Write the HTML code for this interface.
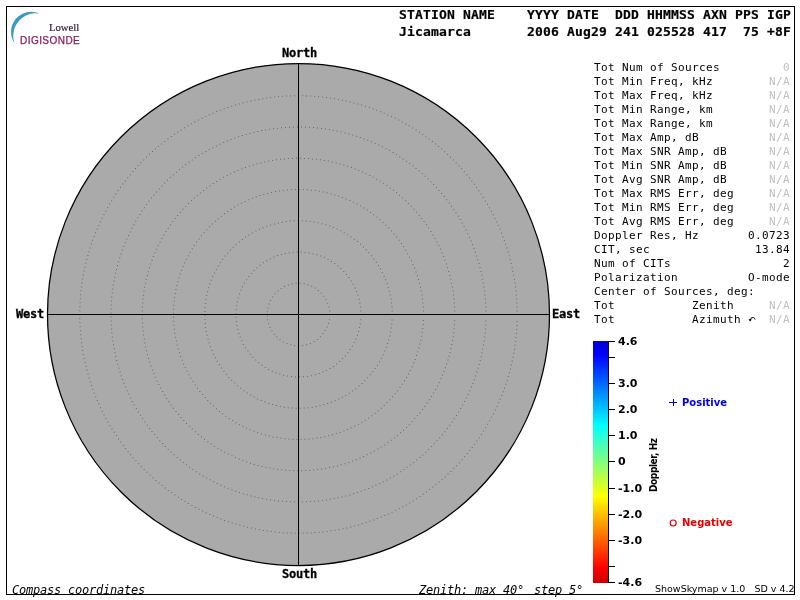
<!DOCTYPE html>
<html><head><meta charset="utf-8">
<style>
html,body{margin:0;padding:0;background:#fff;}
body{width:800px;height:600px;position:relative;overflow:hidden;}
.t{position:absolute;white-space:pre;line-height:1;margin:0;will-change:transform;}
.hd{font-family:"DejaVu Sans Mono",monospace;font-weight:bold;font-size:13px;letter-spacing:0.174px;color:#000;-webkit-text-stroke:0.2px #000;}
.cp{font-family:"DejaVu Sans Mono",monospace;font-weight:bold;font-size:12px;letter-spacing:-0.225px;color:#000;-webkit-text-stroke:0.3px #000;}
.m{font-family:"DejaVu Sans Mono",monospace;font-size:11px;letter-spacing:0.378px;color:#000;}
.mi{font-family:"DejaVu Sans Mono",monospace;font-style:italic;font-size:12px;letter-spacing:-0.225px;color:#000;}
.na{color:#c0c0c0;}
.tk{font-family:"DejaVu Sans",sans-serif;font-weight:bold;font-size:11px;color:#000;}
.lg{font-family:"DejaVu Sans",sans-serif;font-weight:bold;font-size:10px;}
svg{position:absolute;left:0;top:0;}
</style></head><body>
<svg width="800" height="600" viewBox="0 0 800 600">
  <defs>
    <linearGradient id="cb" x1="0" y1="341" x2="0" y2="583" gradientUnits="userSpaceOnUse">
      <stop offset="0" stop-color="#0000cf"/>
      <stop offset="0.056" stop-color="#0000ff"/>
      <stop offset="0.349" stop-color="#00ffff"/>
      <stop offset="0.643" stop-color="#ffff00"/>
      <stop offset="0.936" stop-color="#ff0000"/>
      <stop offset="1" stop-color="#c90000"/>
    </linearGradient>
  </defs>
  <rect x="6.5" y="6.5" width="788" height="588" fill="none" stroke="#000" stroke-width="1"/>
  <circle cx="298.5" cy="314.5" r="251" fill="#aaaaaa" stroke="#000" stroke-width="1.25"/>
  <path fill="#6a6a6a" d="M329.1 310.5h1v1h-1zM328.4 306.6h1v1h-1zM327.2 302.8h1v1h-1zM325.5 299.1h1v1h-1zM323.4 295.7h1v1h-1zM320.8 292.7h1v1h-1zM317.9 289.9h1v1h-1zM314.7 287.6h1v1h-1zM311.2 285.7h1v1h-1zM307.4 284.2h1v1h-1zM303.6 283.2h1v1h-1zM299.6 282.8h1v1h-1zM295.6 282.8h1v1h-1zM291.6 283.4h1v1h-1zM287.8 284.5h1v1h-1zM284.1 286.0h1v1h-1zM280.6 288.0h1v1h-1zM277.5 290.4h1v1h-1zM274.6 293.3h1v1h-1zM272.2 296.4h1v1h-1zM270.1 299.9h1v1h-1zM268.6 303.5h1v1h-1zM267.5 307.4h1v1h-1zM266.9 311.3h1v1h-1zM266.8 315.3h1v1h-1zM267.2 319.3h1v1h-1zM268.1 323.2h1v1h-1zM269.5 326.9h1v1h-1zM271.4 330.5h1v1h-1zM273.7 333.7h1v1h-1zM276.5 336.6h1v1h-1zM279.5 339.2h1v1h-1zM282.9 341.4h1v1h-1zM286.5 343.1h1v1h-1zM290.3 344.3h1v1h-1zM294.2 345.0h1v1h-1zM298.2 345.2h1v1h-1zM302.2 345.0h1v1h-1zM306.1 344.2h1v1h-1zM309.9 342.9h1v1h-1zM313.5 341.1h1v1h-1zM316.9 338.9h1v1h-1zM319.9 336.3h1v1h-1zM322.5 333.3h1v1h-1zM324.8 330.0h1v1h-1zM326.6 326.5h1v1h-1zM328.0 322.7h1v1h-1zM328.9 318.8h1v1h-1zM360.4 310.5h1v1h-1zM360.1 306.5h1v1h-1zM359.4 302.6h1v1h-1zM358.6 298.7h1v1h-1zM357.5 294.8h1v1h-1zM356.1 291.0h1v1h-1zM354.5 287.4h1v1h-1zM352.7 283.8h1v1h-1zM350.7 280.4h1v1h-1zM348.4 277.1h1v1h-1zM346.0 273.9h1v1h-1zM343.3 270.9h1v1h-1zM340.5 268.1h1v1h-1zM337.4 265.5h1v1h-1zM334.3 263.1h1v1h-1zM330.9 260.9h1v1h-1zM327.5 258.9h1v1h-1zM323.9 257.1h1v1h-1zM320.2 255.6h1v1h-1zM316.4 254.3h1v1h-1zM312.5 253.2h1v1h-1zM308.6 252.4h1v1h-1zM304.7 251.9h1v1h-1zM300.7 251.6h1v1h-1zM296.7 251.5h1v1h-1zM292.7 251.7h1v1h-1zM288.7 252.2h1v1h-1zM284.8 252.9h1v1h-1zM280.9 253.9h1v1h-1zM277.1 255.1h1v1h-1zM273.4 256.6h1v1h-1zM269.7 258.3h1v1h-1zM266.2 260.2h1v1h-1zM262.9 262.3h1v1h-1zM259.6 264.7h1v1h-1zM256.5 267.2h1v1h-1zM253.6 270.0h1v1h-1zM250.9 272.9h1v1h-1zM248.4 276.0h1v1h-1zM246.1 279.2h1v1h-1zM243.9 282.6h1v1h-1zM242.0 286.2h1v1h-1zM240.4 289.8h1v1h-1zM238.9 293.5h1v1h-1zM237.8 297.4h1v1h-1zM236.8 301.2h1v1h-1zM236.1 305.2h1v1h-1zM235.7 309.2h1v1h-1zM235.5 313.2h1v1h-1zM235.6 317.1h1v1h-1zM235.9 321.1h1v1h-1zM236.5 325.1h1v1h-1zM237.3 329.0h1v1h-1zM238.4 332.9h1v1h-1zM239.7 336.6h1v1h-1zM241.3 340.3h1v1h-1zM243.1 343.9h1v1h-1zM245.1 347.3h1v1h-1zM247.4 350.6h1v1h-1zM249.8 353.8h1v1h-1zM252.5 356.8h1v1h-1zM255.3 359.6h1v1h-1zM258.3 362.3h1v1h-1zM261.5 364.7h1v1h-1zM264.8 366.9h1v1h-1zM268.2 369.0h1v1h-1zM271.8 370.7h1v1h-1zM275.5 372.3h1v1h-1zM279.3 373.6h1v1h-1zM283.1 374.7h1v1h-1zM287.0 375.5h1v1h-1zM291.0 376.1h1v1h-1zM295.0 376.4h1v1h-1zM299.0 376.5h1v1h-1zM303.0 376.3h1v1h-1zM306.9 375.9h1v1h-1zM310.9 375.2h1v1h-1zM314.8 374.2h1v1h-1zM318.6 373.0h1v1h-1zM322.3 371.6h1v1h-1zM325.9 369.9h1v1h-1zM329.5 368.0h1v1h-1zM332.9 365.9h1v1h-1zM336.1 363.5h1v1h-1zM339.2 361.0h1v1h-1zM342.1 358.3h1v1h-1zM344.9 355.4h1v1h-1zM347.4 352.3h1v1h-1zM349.8 349.0h1v1h-1zM351.9 345.7h1v1h-1zM353.8 342.1h1v1h-1zM355.5 338.5h1v1h-1zM356.9 334.8h1v1h-1zM358.1 331.0h1v1h-1zM359.1 327.1h1v1h-1zM359.8 323.2h1v1h-1zM360.3 319.2h1v1h-1zM391.7 310.5h1v1h-1zM391.5 306.5h1v1h-1zM391.0 302.5h1v1h-1zM390.5 298.6h1v1h-1zM389.7 294.6h1v1h-1zM388.8 290.7h1v1h-1zM387.7 286.9h1v1h-1zM386.5 283.1h1v1h-1zM385.1 279.3h1v1h-1zM383.6 275.7h1v1h-1zM381.8 272.0h1v1h-1zM380.0 268.5h1v1h-1zM378.0 265.1h1v1h-1zM375.8 261.7h1v1h-1zM373.5 258.4h1v1h-1zM371.1 255.2h1v1h-1zM368.5 252.2h1v1h-1zM365.8 249.2h1v1h-1zM363.0 246.4h1v1h-1zM360.0 243.7h1v1h-1zM357.0 241.1h1v1h-1zM353.8 238.7h1v1h-1zM350.5 236.4h1v1h-1zM347.2 234.2h1v1h-1zM343.7 232.2h1v1h-1zM340.2 230.3h1v1h-1zM336.6 228.6h1v1h-1zM332.9 227.0h1v1h-1zM329.2 225.6h1v1h-1zM325.4 224.3h1v1h-1zM321.5 223.2h1v1h-1zM317.6 222.3h1v1h-1zM313.7 221.6h1v1h-1zM309.7 221.0h1v1h-1zM305.8 220.6h1v1h-1zM301.8 220.3h1v1h-1zM297.8 220.3h1v1h-1zM293.8 220.3h1v1h-1zM289.8 220.6h1v1h-1zM285.8 221.0h1v1h-1zM281.8 221.7h1v1h-1zM277.9 222.4h1v1h-1zM274.0 223.4h1v1h-1zM270.2 224.5h1v1h-1zM266.4 225.7h1v1h-1zM262.7 227.2h1v1h-1zM259.0 228.8h1v1h-1zM255.4 230.5h1v1h-1zM251.9 232.4h1v1h-1zM248.4 234.4h1v1h-1zM245.1 236.6h1v1h-1zM241.8 238.9h1v1h-1zM238.7 241.4h1v1h-1zM235.6 244.0h1v1h-1zM232.7 246.7h1v1h-1zM229.9 249.6h1v1h-1zM227.2 252.5h1v1h-1zM224.6 255.6h1v1h-1zM222.2 258.8h1v1h-1zM219.9 262.1h1v1h-1zM217.8 265.5h1v1h-1zM215.8 268.9h1v1h-1zM214.0 272.5h1v1h-1zM212.3 276.1h1v1h-1zM210.7 279.8h1v1h-1zM209.3 283.5h1v1h-1zM208.1 287.3h1v1h-1zM207.1 291.2h1v1h-1zM206.2 295.1h1v1h-1zM205.5 299.0h1v1h-1zM204.9 303.0h1v1h-1zM204.5 307.0h1v1h-1zM204.3 311.0h1v1h-1zM204.3 315.0h1v1h-1zM204.4 319.0h1v1h-1zM204.7 323.0h1v1h-1zM205.1 326.9h1v1h-1zM205.8 330.9h1v1h-1zM206.6 334.8h1v1h-1zM207.6 338.7h1v1h-1zM208.7 342.5h1v1h-1zM210.0 346.3h1v1h-1zM211.4 350.0h1v1h-1zM213.1 353.7h1v1h-1zM214.8 357.3h1v1h-1zM216.8 360.8h1v1h-1zM218.8 364.2h1v1h-1zM221.0 367.5h1v1h-1zM223.4 370.8h1v1h-1zM225.9 373.9h1v1h-1zM228.5 376.9h1v1h-1zM231.2 379.8h1v1h-1zM234.1 382.6h1v1h-1zM237.1 385.3h1v1h-1zM240.2 387.8h1v1h-1zM243.4 390.2h1v1h-1zM246.7 392.5h1v1h-1zM250.1 394.6h1v1h-1zM253.6 396.6h1v1h-1zM257.1 398.4h1v1h-1zM260.8 400.0h1v1h-1zM264.5 401.5h1v1h-1zM268.2 402.9h1v1h-1zM272.1 404.1h1v1h-1zM275.9 405.1h1v1h-1zM279.8 406.0h1v1h-1zM283.8 406.7h1v1h-1zM287.7 407.2h1v1h-1zM291.7 407.5h1v1h-1zM295.7 407.7h1v1h-1zM299.7 407.7h1v1h-1zM303.7 407.6h1v1h-1zM307.7 407.2h1v1h-1zM311.7 406.7h1v1h-1zM315.6 406.1h1v1h-1zM319.5 405.2h1v1h-1zM323.4 404.2h1v1h-1zM327.2 403.1h1v1h-1zM331.0 401.8h1v1h-1zM334.7 400.3h1v1h-1zM338.4 398.6h1v1h-1zM341.9 396.8h1v1h-1zM345.4 394.9h1v1h-1zM348.8 392.8h1v1h-1zM352.1 390.5h1v1h-1zM355.4 388.2h1v1h-1zM358.5 385.6h1v1h-1zM361.5 383.0h1v1h-1zM364.3 380.2h1v1h-1zM367.1 377.3h1v1h-1zM369.8 374.3h1v1h-1zM372.3 371.2h1v1h-1zM374.6 368.0h1v1h-1zM376.9 364.7h1v1h-1zM379.0 361.3h1v1h-1zM380.9 357.8h1v1h-1zM382.7 354.2h1v1h-1zM384.3 350.6h1v1h-1zM385.8 346.8h1v1h-1zM387.1 343.1h1v1h-1zM388.3 339.2h1v1h-1zM389.3 335.4h1v1h-1zM390.1 331.4h1v1h-1zM390.8 327.5h1v1h-1zM391.3 323.5h1v1h-1zM391.6 319.5h1v1h-1zM423.0 310.5h1v1h-1zM422.8 306.5h1v1h-1zM422.5 302.5h1v1h-1zM422.0 298.5h1v1h-1zM421.5 294.6h1v1h-1zM420.8 290.6h1v1h-1zM420.0 286.7h1v1h-1zM419.1 282.8h1v1h-1zM418.0 279.0h1v1h-1zM416.8 275.2h1v1h-1zM415.5 271.4h1v1h-1zM414.1 267.6h1v1h-1zM412.5 263.9h1v1h-1zM410.9 260.3h1v1h-1zM409.1 256.7h1v1h-1zM407.2 253.2h1v1h-1zM405.2 249.7h1v1h-1zM403.1 246.3h1v1h-1zM400.9 243.0h1v1h-1zM398.6 239.8h1v1h-1zM396.1 236.6h1v1h-1zM393.6 233.5h1v1h-1zM391.0 230.5h1v1h-1zM388.3 227.5h1v1h-1zM385.4 224.7h1v1h-1zM382.5 221.9h1v1h-1zM379.6 219.3h1v1h-1zM376.5 216.7h1v1h-1zM373.3 214.2h1v1h-1zM370.1 211.9h1v1h-1zM366.8 209.6h1v1h-1zM363.4 207.5h1v1h-1zM360.0 205.4h1v1h-1zM356.5 203.5h1v1h-1zM352.9 201.7h1v1h-1zM349.3 200.0h1v1h-1zM345.6 198.4h1v1h-1zM341.9 197.0h1v1h-1zM338.1 195.6h1v1h-1zM334.3 194.4h1v1h-1zM330.5 193.3h1v1h-1zM326.6 192.3h1v1h-1zM322.7 191.5h1v1h-1zM318.8 190.7h1v1h-1zM314.8 190.1h1v1h-1zM310.8 189.7h1v1h-1zM306.8 189.3h1v1h-1zM302.8 189.1h1v1h-1zM298.8 189.0h1v1h-1zM294.8 189.0h1v1h-1zM290.9 189.2h1v1h-1zM286.9 189.5h1v1h-1zM282.9 189.9h1v1h-1zM278.9 190.5h1v1h-1zM275.0 191.1h1v1h-1zM271.1 191.9h1v1h-1zM267.2 192.9h1v1h-1zM263.3 193.9h1v1h-1zM259.5 195.1h1v1h-1zM255.7 196.4h1v1h-1zM252.0 197.8h1v1h-1zM248.3 199.3h1v1h-1zM244.6 201.0h1v1h-1zM241.0 202.7h1v1h-1zM237.5 204.6h1v1h-1zM234.0 206.6h1v1h-1zM230.6 208.7h1v1h-1zM227.3 210.9h1v1h-1zM224.0 213.2h1v1h-1zM220.8 215.7h1v1h-1zM217.7 218.2h1v1h-1zM214.7 220.8h1v1h-1zM211.8 223.5h1v1h-1zM208.9 226.3h1v1h-1zM206.2 229.2h1v1h-1zM203.5 232.2h1v1h-1zM200.9 235.2h1v1h-1zM198.5 238.4h1v1h-1zM196.1 241.6h1v1h-1zM193.8 244.9h1v1h-1zM191.7 248.3h1v1h-1zM189.6 251.7h1v1h-1zM187.7 255.2h1v1h-1zM185.9 258.8h1v1h-1zM184.2 262.4h1v1h-1zM182.6 266.1h1v1h-1zM181.1 269.8h1v1h-1zM179.7 273.5h1v1h-1zM178.5 277.3h1v1h-1zM177.4 281.2h1v1h-1zM176.4 285.1h1v1h-1zM175.5 289.0h1v1h-1zM174.8 292.9h1v1h-1zM174.2 296.9h1v1h-1zM173.7 300.8h1v1h-1zM173.3 304.8h1v1h-1zM173.1 308.8h1v1h-1zM173.0 312.8h1v1h-1zM173.0 316.8h1v1h-1zM173.2 320.8h1v1h-1zM173.5 324.8h1v1h-1zM173.9 328.8h1v1h-1zM174.4 332.7h1v1h-1zM175.1 336.7h1v1h-1zM175.9 340.6h1v1h-1zM176.8 344.5h1v1h-1zM177.8 348.4h1v1h-1zM179.0 352.2h1v1h-1zM180.3 356.0h1v1h-1zM181.7 359.7h1v1h-1zM183.2 363.4h1v1h-1zM184.8 367.1h1v1h-1zM186.6 370.7h1v1h-1zM188.4 374.2h1v1h-1zM190.4 377.7h1v1h-1zM192.5 381.1h1v1h-1zM194.7 384.4h1v1h-1zM197.0 387.7h1v1h-1zM199.4 390.9h1v1h-1zM201.9 394.0h1v1h-1zM204.6 397.0h1v1h-1zM207.3 400.0h1v1h-1zM210.1 402.8h1v1h-1zM212.9 405.6h1v1h-1zM215.9 408.3h1v1h-1zM219.0 410.9h1v1h-1zM222.1 413.3h1v1h-1zM225.3 415.7h1v1h-1zM228.6 418.0h1v1h-1zM232.0 420.1h1v1h-1zM235.4 422.2h1v1h-1zM238.9 424.2h1v1h-1zM242.5 426.0h1v1h-1zM246.1 427.7h1v1h-1zM249.7 429.3h1v1h-1zM253.5 430.8h1v1h-1zM257.2 432.2h1v1h-1zM261.0 433.4h1v1h-1zM264.9 434.5h1v1h-1zM268.7 435.5h1v1h-1zM272.6 436.4h1v1h-1zM276.6 437.1h1v1h-1zM280.5 437.8h1v1h-1zM284.5 438.3h1v1h-1zM288.5 438.6h1v1h-1zM292.5 438.9h1v1h-1zM296.5 439.0h1v1h-1zM300.5 439.0h1v1h-1zM304.4 438.8h1v1h-1zM308.4 438.6h1v1h-1zM312.4 438.2h1v1h-1zM316.4 437.6h1v1h-1zM320.3 437.0h1v1h-1zM324.3 436.2h1v1h-1zM328.2 435.3h1v1h-1zM332.0 434.3h1v1h-1zM335.8 433.1h1v1h-1zM339.6 431.9h1v1h-1zM343.4 430.5h1v1h-1zM347.1 429.0h1v1h-1zM350.7 427.3h1v1h-1zM354.3 425.6h1v1h-1zM357.9 423.7h1v1h-1zM361.4 421.7h1v1h-1zM364.8 419.7h1v1h-1zM368.1 417.5h1v1h-1zM371.4 415.2h1v1h-1zM374.6 412.8h1v1h-1zM377.7 410.3h1v1h-1zM380.8 407.7h1v1h-1zM383.7 405.0h1v1h-1zM386.6 402.2h1v1h-1zM389.4 399.3h1v1h-1zM392.0 396.3h1v1h-1zM394.6 393.3h1v1h-1zM397.1 390.2h1v1h-1zM399.5 387.0h1v1h-1zM401.8 383.7h1v1h-1zM404.0 380.3h1v1h-1zM406.0 376.9h1v1h-1zM408.0 373.4h1v1h-1zM409.8 369.9h1v1h-1zM411.6 366.2h1v1h-1zM413.2 362.6h1v1h-1zM414.7 358.9h1v1h-1zM416.0 355.1h1v1h-1zM417.3 351.3h1v1h-1zM418.4 347.5h1v1h-1zM419.4 343.6h1v1h-1zM420.3 339.7h1v1h-1zM421.1 335.8h1v1h-1zM421.7 331.8h1v1h-1zM422.2 327.9h1v1h-1zM422.6 323.9h1v1h-1zM422.9 319.9h1v1h-1zM454.2 310.5h1v1h-1zM454.1 306.5h1v1h-1zM453.8 302.5h1v1h-1zM453.5 298.5h1v1h-1zM453.0 294.6h1v1h-1zM452.5 290.6h1v1h-1zM451.8 286.6h1v1h-1zM451.1 282.7h1v1h-1zM450.2 278.8h1v1h-1zM449.3 274.9h1v1h-1zM448.2 271.1h1v1h-1zM447.1 267.2h1v1h-1zM445.8 263.4h1v1h-1zM444.5 259.7h1v1h-1zM443.1 255.9h1v1h-1zM441.5 252.2h1v1h-1zM439.9 248.6h1v1h-1zM438.2 245.0h1v1h-1zM436.4 241.4h1v1h-1zM434.5 237.9h1v1h-1zM432.5 234.4h1v1h-1zM430.4 231.0h1v1h-1zM428.2 227.6h1v1h-1zM426.0 224.3h1v1h-1zM423.6 221.1h1v1h-1zM421.2 217.9h1v1h-1zM418.7 214.8h1v1h-1zM416.1 211.7h1v1h-1zM413.5 208.7h1v1h-1zM410.7 205.8h1v1h-1zM407.9 203.0h1v1h-1zM405.1 200.2h1v1h-1zM402.1 197.5h1v1h-1zM399.1 194.9h1v1h-1zM396.0 192.3h1v1h-1zM392.9 189.8h1v1h-1zM389.6 187.5h1v1h-1zM386.4 185.1h1v1h-1zM383.1 182.9h1v1h-1zM379.7 180.8h1v1h-1zM376.2 178.7h1v1h-1zM372.7 176.8h1v1h-1zM369.2 174.9h1v1h-1zM365.6 173.1h1v1h-1zM362.0 171.5h1v1h-1zM358.3 169.9h1v1h-1zM354.6 168.4h1v1h-1zM350.9 167.0h1v1h-1zM347.1 165.7h1v1h-1zM343.3 164.5h1v1h-1zM339.4 163.3h1v1h-1zM335.6 162.3h1v1h-1zM331.7 161.4h1v1h-1zM327.8 160.6h1v1h-1zM323.8 159.9h1v1h-1zM319.9 159.3h1v1h-1zM315.9 158.8h1v1h-1zM311.9 158.4h1v1h-1zM307.9 158.1h1v1h-1zM303.9 157.9h1v1h-1zM299.9 157.8h1v1h-1zM295.9 157.8h1v1h-1zM291.9 157.9h1v1h-1zM287.9 158.1h1v1h-1zM284.0 158.4h1v1h-1zM280.0 158.8h1v1h-1zM276.0 159.3h1v1h-1zM272.1 159.9h1v1h-1zM268.1 160.6h1v1h-1zM264.2 161.4h1v1h-1zM260.3 162.4h1v1h-1zM256.4 163.4h1v1h-1zM252.6 164.5h1v1h-1zM248.8 165.7h1v1h-1zM245.0 167.0h1v1h-1zM241.3 168.4h1v1h-1zM237.6 169.9h1v1h-1zM233.9 171.5h1v1h-1zM230.3 173.2h1v1h-1zM226.7 175.0h1v1h-1zM223.1 176.8h1v1h-1zM219.7 178.8h1v1h-1zM216.2 180.9h1v1h-1zM212.8 183.0h1v1h-1zM209.5 185.2h1v1h-1zM206.2 187.5h1v1h-1zM203.0 189.9h1v1h-1zM199.9 192.4h1v1h-1zM196.8 194.9h1v1h-1zM193.8 197.6h1v1h-1zM190.9 200.3h1v1h-1zM188.0 203.1h1v1h-1zM185.2 205.9h1v1h-1zM182.4 208.8h1v1h-1zM179.8 211.8h1v1h-1zM177.2 214.9h1v1h-1zM174.7 218.0h1v1h-1zM172.3 221.2h1v1h-1zM170.0 224.4h1v1h-1zM167.7 227.7h1v1h-1zM165.5 231.1h1v1h-1zM163.5 234.5h1v1h-1zM161.5 238.0h1v1h-1zM159.6 241.5h1v1h-1zM157.8 245.1h1v1h-1zM156.1 248.7h1v1h-1zM154.4 252.3h1v1h-1zM152.9 256.0h1v1h-1zM151.5 259.8h1v1h-1zM150.1 263.5h1v1h-1zM148.9 267.3h1v1h-1zM147.7 271.2h1v1h-1zM146.7 275.0h1v1h-1zM145.7 278.9h1v1h-1zM144.9 282.8h1v1h-1zM144.1 286.8h1v1h-1zM143.5 290.7h1v1h-1zM142.9 294.7h1v1h-1zM142.5 298.7h1v1h-1zM142.2 302.6h1v1h-1zM141.9 306.6h1v1h-1zM141.8 310.6h1v1h-1zM141.8 314.6h1v1h-1zM141.8 318.6h1v1h-1zM142.0 322.6h1v1h-1zM142.3 326.6h1v1h-1zM142.6 330.6h1v1h-1zM143.1 334.6h1v1h-1zM143.7 338.5h1v1h-1zM144.4 342.5h1v1h-1zM145.1 346.4h1v1h-1zM146.0 350.3h1v1h-1zM147.0 354.2h1v1h-1zM148.1 358.0h1v1h-1zM149.3 361.8h1v1h-1zM150.5 365.6h1v1h-1zM151.9 369.4h1v1h-1zM153.4 373.1h1v1h-1zM154.9 376.8h1v1h-1zM156.6 380.4h1v1h-1zM158.3 384.0h1v1h-1zM160.2 387.6h1v1h-1zM162.1 391.1h1v1h-1zM164.1 394.5h1v1h-1zM166.2 397.9h1v1h-1zM168.4 401.3h1v1h-1zM170.7 404.6h1v1h-1zM173.0 407.8h1v1h-1zM175.5 411.0h1v1h-1zM178.0 414.1h1v1h-1zM180.6 417.1h1v1h-1zM183.3 420.1h1v1h-1zM186.0 423.0h1v1h-1zM188.9 425.8h1v1h-1zM191.8 428.6h1v1h-1zM194.7 431.3h1v1h-1zM197.8 433.9h1v1h-1zM200.9 436.4h1v1h-1zM204.0 438.8h1v1h-1zM207.3 441.2h1v1h-1zM210.6 443.5h1v1h-1zM213.9 445.7h1v1h-1zM217.3 447.8h1v1h-1zM220.7 449.8h1v1h-1zM224.2 451.7h1v1h-1zM227.8 453.6h1v1h-1zM231.4 455.3h1v1h-1zM235.0 457.0h1v1h-1zM238.7 458.6h1v1h-1zM242.4 460.0h1v1h-1zM246.2 461.4h1v1h-1zM250.0 462.7h1v1h-1zM253.8 463.9h1v1h-1zM257.7 465.0h1v1h-1zM261.5 465.9h1v1h-1zM265.4 466.8h1v1h-1zM269.4 467.6h1v1h-1zM273.3 468.3h1v1h-1zM277.3 468.9h1v1h-1zM281.2 469.3h1v1h-1zM285.2 469.7h1v1h-1zM289.2 470.0h1v1h-1zM293.2 470.2h1v1h-1zM297.2 470.2h1v1h-1zM301.2 470.2h1v1h-1zM305.2 470.1h1v1h-1zM309.2 469.8h1v1h-1zM313.2 469.5h1v1h-1zM317.1 469.1h1v1h-1zM321.1 468.5h1v1h-1zM325.1 467.9h1v1h-1zM329.0 467.1h1v1h-1zM332.9 466.3h1v1h-1zM336.8 465.4h1v1h-1zM340.6 464.3h1v1h-1zM344.5 463.2h1v1h-1zM348.3 461.9h1v1h-1zM352.0 460.6h1v1h-1zM355.8 459.2h1v1h-1zM359.5 457.6h1v1h-1zM363.1 456.0h1v1h-1zM366.8 454.3h1v1h-1zM370.3 452.5h1v1h-1zM373.8 450.6h1v1h-1zM377.3 448.6h1v1h-1zM380.7 446.5h1v1h-1zM384.1 444.4h1v1h-1zM387.4 442.1h1v1h-1zM390.7 439.8h1v1h-1zM393.9 437.4h1v1h-1zM397.0 434.9h1v1h-1zM400.0 432.3h1v1h-1zM403.0 429.7h1v1h-1zM406.0 427.0h1v1h-1zM408.8 424.2h1v1h-1zM411.6 421.3h1v1h-1zM414.3 418.3h1v1h-1zM416.9 415.3h1v1h-1zM419.5 412.2h1v1h-1zM422.0 409.1h1v1h-1zM424.4 405.9h1v1h-1zM426.7 402.6h1v1h-1zM428.9 399.3h1v1h-1zM431.0 395.9h1v1h-1zM433.1 392.5h1v1h-1zM435.1 389.0h1v1h-1zM436.9 385.5h1v1h-1zM438.7 381.9h1v1h-1zM440.4 378.3h1v1h-1zM442.0 374.6h1v1h-1zM443.5 370.9h1v1h-1zM444.9 367.2h1v1h-1zM446.2 363.4h1v1h-1zM447.5 359.6h1v1h-1zM448.6 355.7h1v1h-1zM449.6 351.9h1v1h-1zM450.5 348.0h1v1h-1zM451.3 344.1h1v1h-1zM452.1 340.1h1v1h-1zM452.7 336.2h1v1h-1zM453.2 332.2h1v1h-1zM453.6 328.2h1v1h-1zM453.9 324.2h1v1h-1zM454.1 320.2h1v1h-1zM485.5 310.5h1v1h-1zM485.4 306.5h1v1h-1zM485.1 302.5h1v1h-1zM484.9 298.5h1v1h-1zM484.5 294.5h1v1h-1zM484.0 290.6h1v1h-1zM483.5 286.6h1v1h-1zM482.9 282.6h1v1h-1zM482.1 278.7h1v1h-1zM481.4 274.8h1v1h-1zM480.5 270.9h1v1h-1zM479.5 267.0h1v1h-1zM478.5 263.1h1v1h-1zM477.3 259.3h1v1h-1zM476.1 255.5h1v1h-1zM474.8 251.7h1v1h-1zM473.5 247.9h1v1h-1zM472.0 244.2h1v1h-1zM470.5 240.5h1v1h-1zM468.9 236.9h1v1h-1zM467.2 233.2h1v1h-1zM465.5 229.6h1v1h-1zM463.6 226.1h1v1h-1zM461.7 222.6h1v1h-1zM459.7 219.1h1v1h-1zM457.7 215.7h1v1h-1zM455.5 212.3h1v1h-1zM453.3 209.0h1v1h-1zM451.0 205.7h1v1h-1zM448.7 202.4h1v1h-1zM446.3 199.2h1v1h-1zM443.8 196.1h1v1h-1zM441.2 193.0h1v1h-1zM438.6 190.0h1v1h-1zM436.0 187.0h1v1h-1zM433.2 184.1h1v1h-1zM430.4 181.2h1v1h-1zM427.6 178.5h1v1h-1zM424.6 175.7h1v1h-1zM421.7 173.1h1v1h-1zM418.6 170.4h1v1h-1zM415.5 167.9h1v1h-1zM412.4 165.4h1v1h-1zM409.2 163.0h1v1h-1zM405.9 160.7h1v1h-1zM402.6 158.4h1v1h-1zM399.3 156.2h1v1h-1zM395.9 154.1h1v1h-1zM392.5 152.0h1v1h-1zM389.0 150.1h1v1h-1zM385.5 148.2h1v1h-1zM381.9 146.3h1v1h-1zM378.3 144.6h1v1h-1zM374.7 142.9h1v1h-1zM371.0 141.3h1v1h-1zM367.3 139.8h1v1h-1zM363.6 138.4h1v1h-1zM359.8 137.0h1v1h-1zM356.1 135.7h1v1h-1zM352.2 134.5h1v1h-1zM348.4 133.4h1v1h-1zM344.5 132.4h1v1h-1zM340.6 131.4h1v1h-1zM336.7 130.5h1v1h-1zM332.8 129.8h1v1h-1zM328.9 129.1h1v1h-1zM324.9 128.4h1v1h-1zM321.0 127.9h1v1h-1zM317.0 127.5h1v1h-1zM313.0 127.1h1v1h-1zM309.0 126.8h1v1h-1zM305.0 126.6h1v1h-1zM301.0 126.5h1v1h-1zM297.0 126.5h1v1h-1zM293.0 126.6h1v1h-1zM289.0 126.7h1v1h-1zM285.0 126.9h1v1h-1zM281.0 127.3h1v1h-1zM277.1 127.7h1v1h-1zM273.1 128.2h1v1h-1zM269.1 128.7h1v1h-1zM265.2 129.4h1v1h-1zM261.3 130.1h1v1h-1zM257.3 131.0h1v1h-1zM253.5 131.9h1v1h-1zM249.6 132.9h1v1h-1zM245.7 133.9h1v1h-1zM241.9 135.1h1v1h-1zM238.1 136.3h1v1h-1zM234.3 137.6h1v1h-1zM230.6 139.0h1v1h-1zM226.9 140.5h1v1h-1zM223.2 142.1h1v1h-1zM219.5 143.7h1v1h-1zM215.9 145.4h1v1h-1zM212.3 147.2h1v1h-1zM208.8 149.1h1v1h-1zM205.3 151.0h1v1h-1zM201.8 153.0h1v1h-1zM198.4 155.1h1v1h-1zM195.1 157.3h1v1h-1zM191.7 159.5h1v1h-1zM188.5 161.8h1v1h-1zM185.2 164.2h1v1h-1zM182.1 166.6h1v1h-1zM179.0 169.1h1v1h-1zM175.9 171.7h1v1h-1zM172.9 174.3h1v1h-1zM169.9 177.0h1v1h-1zM167.0 179.8h1v1h-1zM164.2 182.6h1v1h-1zM161.4 185.5h1v1h-1zM158.7 188.5h1v1h-1zM156.1 191.5h1v1h-1zM153.5 194.5h1v1h-1zM151.0 197.6h1v1h-1zM148.5 200.8h1v1h-1zM146.2 204.0h1v1h-1zM143.8 207.3h1v1h-1zM141.6 210.6h1v1h-1zM139.4 213.9h1v1h-1zM137.3 217.3h1v1h-1zM135.3 220.8h1v1h-1zM133.4 224.3h1v1h-1zM131.5 227.8h1v1h-1zM129.7 231.4h1v1h-1zM128.0 235.0h1v1h-1zM126.3 238.6h1v1h-1zM124.7 242.3h1v1h-1zM123.3 246.0h1v1h-1zM121.8 249.8h1v1h-1zM120.5 253.6h1v1h-1zM119.3 257.4h1v1h-1zM118.1 261.2h1v1h-1zM117.0 265.0h1v1h-1zM116.0 268.9h1v1h-1zM115.1 272.8h1v1h-1zM114.2 276.7h1v1h-1zM113.5 280.6h1v1h-1zM112.8 284.6h1v1h-1zM112.2 288.5h1v1h-1zM111.7 292.5h1v1h-1zM111.3 296.5h1v1h-1zM111.0 300.5h1v1h-1zM110.7 304.5h1v1h-1zM110.6 308.5h1v1h-1zM110.5 312.5h1v1h-1zM110.5 316.5h1v1h-1zM110.6 320.5h1v1h-1zM110.8 324.4h1v1h-1zM111.1 328.4h1v1h-1zM111.4 332.4h1v1h-1zM111.8 336.4h1v1h-1zM112.4 340.4h1v1h-1zM113.0 344.3h1v1h-1zM113.7 348.3h1v1h-1zM114.4 352.2h1v1h-1zM115.3 356.1h1v1h-1zM116.2 360.0h1v1h-1zM117.2 363.8h1v1h-1zM118.4 367.7h1v1h-1zM119.5 371.5h1v1h-1zM120.8 375.3h1v1h-1zM122.2 379.1h1v1h-1zM123.6 382.8h1v1h-1zM125.1 386.5h1v1h-1zM126.7 390.2h1v1h-1zM128.3 393.8h1v1h-1zM130.1 397.4h1v1h-1zM131.9 401.0h1v1h-1zM133.8 404.5h1v1h-1zM135.8 408.0h1v1h-1zM137.8 411.4h1v1h-1zM139.9 414.8h1v1h-1zM142.1 418.2h1v1h-1zM144.4 421.5h1v1h-1zM146.7 424.7h1v1h-1zM149.1 427.9h1v1h-1zM151.5 431.1h1v1h-1zM154.1 434.2h1v1h-1zM156.7 437.2h1v1h-1zM159.3 440.2h1v1h-1zM162.1 443.1h1v1h-1zM164.8 446.0h1v1h-1zM167.7 448.8h1v1h-1zM170.6 451.6h1v1h-1zM173.6 454.3h1v1h-1zM176.6 456.9h1v1h-1zM179.7 459.4h1v1h-1zM182.8 461.9h1v1h-1zM186.0 464.3h1v1h-1zM189.2 466.7h1v1h-1zM192.5 469.0h1v1h-1zM195.8 471.2h1v1h-1zM199.2 473.4h1v1h-1zM202.6 475.4h1v1h-1zM206.1 477.4h1v1h-1zM209.6 479.3h1v1h-1zM213.1 481.2h1v1h-1zM216.7 483.0h1v1h-1zM220.3 484.7h1v1h-1zM224.0 486.3h1v1h-1zM227.7 487.8h1v1h-1zM231.4 489.3h1v1h-1zM235.2 490.7h1v1h-1zM238.9 492.0h1v1h-1zM242.8 493.2h1v1h-1zM246.6 494.3h1v1h-1zM250.5 495.4h1v1h-1zM254.3 496.3h1v1h-1zM258.2 497.2h1v1h-1zM262.1 498.0h1v1h-1zM266.1 498.8h1v1h-1zM270.0 499.4h1v1h-1zM274.0 500.0h1v1h-1zM278.0 500.4h1v1h-1zM281.9 500.8h1v1h-1zM285.9 501.1h1v1h-1zM289.9 501.3h1v1h-1zM293.9 501.5h1v1h-1zM297.9 501.5h1v1h-1zM301.9 501.5h1v1h-1zM305.9 501.3h1v1h-1zM309.9 501.1h1v1h-1zM313.9 500.8h1v1h-1zM317.9 500.4h1v1h-1zM321.9 500.0h1v1h-1zM325.8 499.4h1v1h-1zM329.8 498.8h1v1h-1zM333.7 498.1h1v1h-1zM337.6 497.3h1v1h-1zM341.5 496.4h1v1h-1zM345.4 495.4h1v1h-1zM349.3 494.4h1v1h-1zM353.1 493.2h1v1h-1zM356.9 492.0h1v1h-1zM360.7 490.7h1v1h-1zM364.5 489.3h1v1h-1zM368.2 487.9h1v1h-1zM371.9 486.3h1v1h-1zM375.5 484.7h1v1h-1zM379.2 483.0h1v1h-1zM382.7 481.3h1v1h-1zM386.3 479.4h1v1h-1zM389.8 477.5h1v1h-1zM393.3 475.5h1v1h-1zM396.7 473.4h1v1h-1zM400.1 471.3h1v1h-1zM403.4 469.1h1v1h-1zM406.7 466.8h1v1h-1zM409.9 464.4h1v1h-1zM413.1 462.0h1v1h-1zM416.2 459.5h1v1h-1zM419.3 457.0h1v1h-1zM422.3 454.4h1v1h-1zM425.3 451.7h1v1h-1zM428.2 448.9h1v1h-1zM431.1 446.1h1v1h-1zM433.8 443.2h1v1h-1zM436.6 440.3h1v1h-1zM439.2 437.3h1v1h-1zM441.8 434.3h1v1h-1zM444.4 431.2h1v1h-1zM446.8 428.0h1v1h-1zM449.2 424.8h1v1h-1zM451.6 421.6h1v1h-1zM453.8 418.3h1v1h-1zM456.0 414.9h1v1h-1zM458.1 411.6h1v1h-1zM460.2 408.1h1v1h-1zM462.1 404.6h1v1h-1zM464.0 401.1h1v1h-1zM465.9 397.6h1v1h-1zM467.6 394.0h1v1h-1zM469.3 390.3h1v1h-1zM470.9 386.6h1v1h-1zM472.4 382.9h1v1h-1zM473.8 379.2h1v1h-1zM475.1 375.4h1v1h-1zM476.4 371.6h1v1h-1zM477.6 367.8h1v1h-1zM478.7 364.0h1v1h-1zM479.7 360.1h1v1h-1zM480.7 356.2h1v1h-1zM481.5 352.3h1v1h-1zM482.3 348.4h1v1h-1zM483.0 344.5h1v1h-1zM483.6 340.5h1v1h-1zM484.1 336.5h1v1h-1zM484.6 332.6h1v1h-1zM484.9 328.6h1v1h-1zM485.2 324.6h1v1h-1zM485.4 320.6h1v1h-1zM516.7 310.5h1v1h-1zM516.6 306.5h1v1h-1zM516.4 302.5h1v1h-1zM516.2 298.5h1v1h-1zM515.9 294.5h1v1h-1zM515.5 290.5h1v1h-1zM515.0 286.6h1v1h-1zM514.5 282.6h1v1h-1zM513.9 278.7h1v1h-1zM513.2 274.7h1v1h-1zM512.4 270.8h1v1h-1zM511.6 266.9h1v1h-1zM510.7 263.0h1v1h-1zM509.7 259.1h1v1h-1zM508.7 255.2h1v1h-1zM507.6 251.4h1v1h-1zM506.4 247.6h1v1h-1zM505.2 243.8h1v1h-1zM503.8 240.0h1v1h-1zM502.5 236.2h1v1h-1zM501.0 232.5h1v1h-1zM499.5 228.8h1v1h-1zM497.9 225.1h1v1h-1zM496.2 221.5h1v1h-1zM494.5 217.9h1v1h-1zM492.7 214.3h1v1h-1zM490.9 210.8h1v1h-1zM488.9 207.3h1v1h-1zM487.0 203.8h1v1h-1zM484.9 200.4h1v1h-1zM482.8 197.0h1v1h-1zM480.6 193.6h1v1h-1zM478.4 190.3h1v1h-1zM476.1 187.0h1v1h-1zM473.8 183.8h1v1h-1zM471.3 180.6h1v1h-1zM468.9 177.4h1v1h-1zM466.4 174.3h1v1h-1zM463.8 171.3h1v1h-1zM461.1 168.3h1v1h-1zM458.4 165.3h1v1h-1zM455.7 162.4h1v1h-1zM452.9 159.5h1v1h-1zM450.0 156.7h1v1h-1zM447.1 154.0h1v1h-1zM444.2 151.3h1v1h-1zM441.2 148.6h1v1h-1zM438.1 146.0h1v1h-1zM435.1 143.5h1v1h-1zM431.9 141.0h1v1h-1zM428.7 138.6h1v1h-1zM425.5 136.2h1v1h-1zM422.2 133.9h1v1h-1zM418.9 131.7h1v1h-1zM415.6 129.5h1v1h-1zM412.2 127.4h1v1h-1zM408.7 125.3h1v1h-1zM405.3 123.4h1v1h-1zM401.8 121.4h1v1h-1zM398.2 119.6h1v1h-1zM394.7 117.8h1v1h-1zM391.0 116.0h1v1h-1zM387.4 114.4h1v1h-1zM383.7 112.8h1v1h-1zM380.1 111.2h1v1h-1zM376.3 109.8h1v1h-1zM372.6 108.4h1v1h-1zM368.8 107.0h1v1h-1zM365.0 105.8h1v1h-1zM361.2 104.6h1v1h-1zM357.4 103.5h1v1h-1zM353.5 102.4h1v1h-1zM349.6 101.4h1v1h-1zM345.7 100.5h1v1h-1zM341.8 99.7h1v1h-1zM337.9 98.9h1v1h-1zM333.9 98.2h1v1h-1zM330.0 97.6h1v1h-1zM326.0 97.1h1v1h-1zM322.1 96.6h1v1h-1zM318.1 96.2h1v1h-1zM314.1 95.8h1v1h-1zM310.1 95.6h1v1h-1zM306.1 95.4h1v1h-1zM302.1 95.3h1v1h-1zM298.1 95.3h1v1h-1zM294.1 95.3h1v1h-1zM290.1 95.4h1v1h-1zM286.1 95.6h1v1h-1zM282.1 95.8h1v1h-1zM278.1 96.2h1v1h-1zM274.2 96.6h1v1h-1zM270.2 97.0h1v1h-1zM266.2 97.6h1v1h-1zM262.3 98.2h1v1h-1zM258.3 98.9h1v1h-1zM254.4 99.6h1v1h-1zM250.5 100.5h1v1h-1zM246.6 101.4h1v1h-1zM242.7 102.4h1v1h-1zM238.9 103.4h1v1h-1zM235.0 104.5h1v1h-1zM231.2 105.7h1v1h-1zM227.4 107.0h1v1h-1zM223.6 108.3h1v1h-1zM219.9 109.7h1v1h-1zM216.2 111.1h1v1h-1zM212.5 112.7h1v1h-1zM208.8 114.3h1v1h-1zM205.2 115.9h1v1h-1zM201.5 117.7h1v1h-1zM198.0 119.5h1v1h-1zM194.4 121.3h1v1h-1zM190.9 123.2h1v1h-1zM187.5 125.2h1v1h-1zM184.0 127.3h1v1h-1zM180.6 129.4h1v1h-1zM177.3 131.6h1v1h-1zM174.0 133.8h1v1h-1zM170.7 136.1h1v1h-1zM167.5 138.5h1v1h-1zM164.3 140.9h1v1h-1zM161.1 143.4h1v1h-1zM158.0 145.9h1v1h-1zM155.0 148.5h1v1h-1zM152.0 151.1h1v1h-1zM149.0 153.8h1v1h-1zM146.1 156.6h1v1h-1zM143.3 159.4h1v1h-1zM140.5 162.2h1v1h-1zM137.7 165.1h1v1h-1zM135.0 168.1h1v1h-1zM132.4 171.1h1v1h-1zM129.8 174.2h1v1h-1zM127.3 177.3h1v1h-1zM124.8 180.4h1v1h-1zM122.4 183.6h1v1h-1zM120.0 186.8h1v1h-1zM117.7 190.1h1v1h-1zM115.5 193.4h1v1h-1zM113.3 196.8h1v1h-1zM111.2 200.2h1v1h-1zM109.2 203.6h1v1h-1zM107.2 207.1h1v1h-1zM105.2 210.6h1v1h-1zM103.4 214.1h1v1h-1zM101.6 217.7h1v1h-1zM99.9 221.3h1v1h-1zM98.2 224.9h1v1h-1zM96.6 228.6h1v1h-1zM95.1 232.3h1v1h-1zM93.6 236.0h1v1h-1zM92.2 239.8h1v1h-1zM90.9 243.6h1v1h-1zM89.6 247.4h1v1h-1zM88.5 251.2h1v1h-1zM87.4 255.0h1v1h-1zM86.3 258.9h1v1h-1zM85.3 262.8h1v1h-1zM84.4 266.7h1v1h-1zM83.6 270.6h1v1h-1zM82.8 274.5h1v1h-1zM82.2 278.4h1v1h-1zM81.5 282.4h1v1h-1zM81.0 286.4h1v1h-1zM80.5 290.3h1v1h-1zM80.1 294.3h1v1h-1zM79.8 298.3h1v1h-1zM79.6 302.3h1v1h-1zM79.4 306.3h1v1h-1zM79.3 310.3h1v1h-1zM79.3 314.3h1v1h-1zM79.3 318.3h1v1h-1zM79.4 322.3h1v1h-1zM79.6 326.3h1v1h-1zM79.9 330.3h1v1h-1zM80.2 334.2h1v1h-1zM80.6 338.2h1v1h-1zM81.1 342.2h1v1h-1zM81.6 346.2h1v1h-1zM82.3 350.1h1v1h-1zM82.9 354.0h1v1h-1zM83.7 358.0h1v1h-1zM84.6 361.9h1v1h-1zM85.5 365.8h1v1h-1zM86.4 369.7h1v1h-1zM87.5 373.5h1v1h-1zM88.6 377.4h1v1h-1zM89.8 381.2h1v1h-1zM91.1 385.0h1v1h-1zM92.4 388.7h1v1h-1zM93.8 392.5h1v1h-1zM95.3 396.2h1v1h-1zM96.8 399.9h1v1h-1zM98.4 403.6h1v1h-1zM100.1 407.2h1v1h-1zM101.8 410.8h1v1h-1zM103.6 414.4h1v1h-1zM105.5 417.9h1v1h-1zM107.4 421.4h1v1h-1zM109.4 424.9h1v1h-1zM111.5 428.3h1v1h-1zM113.6 431.7h1v1h-1zM115.8 435.1h1v1h-1zM118.0 438.4h1v1h-1zM120.3 441.6h1v1h-1zM122.7 444.9h1v1h-1zM125.1 448.0h1v1h-1zM127.6 451.2h1v1h-1zM130.1 454.3h1v1h-1zM132.7 457.3h1v1h-1zM135.4 460.3h1v1h-1zM138.1 463.3h1v1h-1zM140.8 466.2h1v1h-1zM143.7 469.0h1v1h-1zM146.5 471.8h1v1h-1zM149.4 474.6h1v1h-1zM152.4 477.2h1v1h-1zM155.4 479.9h1v1h-1zM158.5 482.5h1v1h-1zM161.6 485.0h1v1h-1zM164.7 487.4h1v1h-1zM167.9 489.9h1v1h-1zM171.1 492.2h1v1h-1zM174.4 494.5h1v1h-1zM177.7 496.7h1v1h-1zM181.1 498.9h1v1h-1zM184.5 501.0h1v1h-1zM187.9 503.0h1v1h-1zM191.4 505.0h1v1h-1zM194.9 506.9h1v1h-1zM198.5 508.8h1v1h-1zM202.0 510.6h1v1h-1zM205.7 512.3h1v1h-1zM209.3 514.0h1v1h-1zM213.0 515.5h1v1h-1zM216.7 517.1h1v1h-1zM220.4 518.5h1v1h-1zM224.1 519.9h1v1h-1zM227.9 521.2h1v1h-1zM231.7 522.5h1v1h-1zM235.5 523.6h1v1h-1zM239.4 524.8h1v1h-1zM243.3 525.8h1v1h-1zM247.1 526.8h1v1h-1zM251.0 527.6h1v1h-1zM254.9 528.5h1v1h-1zM258.9 529.2h1v1h-1zM262.8 529.9h1v1h-1zM266.8 530.5h1v1h-1zM270.7 531.0h1v1h-1zM274.7 531.5h1v1h-1zM278.7 531.9h1v1h-1zM282.7 532.2h1v1h-1zM286.7 532.5h1v1h-1zM290.7 532.6h1v1h-1zM294.7 532.7h1v1h-1zM298.7 532.7h1v1h-1zM302.7 532.7h1v1h-1zM306.7 532.6h1v1h-1zM310.7 532.4h1v1h-1zM314.6 532.1h1v1h-1zM318.6 531.8h1v1h-1zM322.6 531.4h1v1h-1zM326.6 530.9h1v1h-1zM330.5 530.3h1v1h-1zM334.5 529.7h1v1h-1zM338.4 529.0h1v1h-1zM342.4 528.2h1v1h-1zM346.3 527.4h1v1h-1zM350.2 526.4h1v1h-1zM354.0 525.5h1v1h-1zM357.9 524.4h1v1h-1zM361.7 523.3h1v1h-1zM365.5 522.1h1v1h-1zM369.3 520.8h1v1h-1zM373.1 519.5h1v1h-1zM376.8 518.0h1v1h-1zM380.6 516.6h1v1h-1zM384.3 515.0h1v1h-1zM387.9 513.4h1v1h-1zM391.5 511.7h1v1h-1zM395.1 510.0h1v1h-1zM398.7 508.2h1v1h-1zM402.3 506.3h1v1h-1zM405.7 504.4h1v1h-1zM409.2 502.4h1v1h-1zM412.6 500.3h1v1h-1zM416.0 498.2h1v1h-1zM419.4 496.0h1v1h-1zM422.7 493.7h1v1h-1zM425.9 491.4h1v1h-1zM429.2 489.1h1v1h-1zM432.3 486.6h1v1h-1zM435.5 484.1h1v1h-1zM438.6 481.6h1v1h-1zM441.6 479.0h1v1h-1zM444.6 476.4h1v1h-1zM447.5 473.6h1v1h-1zM450.4 470.9h1v1h-1zM453.3 468.1h1v1h-1zM456.1 465.2h1v1h-1zM458.8 462.3h1v1h-1zM461.5 459.3h1v1h-1zM464.1 456.3h1v1h-1zM466.7 453.2h1v1h-1zM469.2 450.1h1v1h-1zM471.7 447.0h1v1h-1zM474.1 443.8h1v1h-1zM476.4 440.5h1v1h-1zM478.7 437.3h1v1h-1zM480.9 433.9h1v1h-1zM483.1 430.6h1v1h-1zM485.2 427.2h1v1h-1zM487.2 423.7h1v1h-1zM489.2 420.3h1v1h-1zM491.1 416.7h1v1h-1zM493.0 413.2h1v1h-1zM494.8 409.6h1v1h-1zM496.5 406.0h1v1h-1zM498.1 402.3h1v1h-1zM499.7 398.7h1v1h-1zM501.2 395.0h1v1h-1zM502.7 391.2h1v1h-1zM504.0 387.5h1v1h-1zM505.3 383.7h1v1h-1zM506.6 379.9h1v1h-1zM507.8 376.1h1v1h-1zM508.9 372.2h1v1h-1zM509.9 368.4h1v1h-1zM510.8 364.5h1v1h-1zM511.7 360.6h1v1h-1zM512.5 356.7h1v1h-1zM513.3 352.7h1v1h-1zM514.0 348.8h1v1h-1zM514.6 344.8h1v1h-1zM515.1 340.9h1v1h-1zM515.5 336.9h1v1h-1zM515.9 332.9h1v1h-1zM516.2 328.9h1v1h-1zM516.5 324.9h1v1h-1zM516.6 320.9h1v1h-1z"/>
  <g shape-rendering="crispEdges" stroke="#000" stroke-width="1">
    <line x1="298.5" y1="63" x2="298.5" y2="566"/>
    <line x1="47" y1="314.5" x2="550" y2="314.5"/>
  </g>
  <!-- colorbar -->
  <rect x="593" y="341" width="15" height="242" fill="url(#cb)"/>
  <g stroke="#000" stroke-width="1" shape-rendering="crispEdges">
    <line x1="608.5" y1="341" x2="608.5" y2="583"/>
    <line x1="608" y1="341.5" x2="615" y2="341.5"/>
    <line x1="608" y1="357.5" x2="615" y2="357.5"/>
    <line x1="608" y1="383.5" x2="615" y2="383.5"/>
    <line x1="608" y1="409.5" x2="615" y2="409.5"/>
    <line x1="608" y1="435.5" x2="615" y2="435.5"/>
    <line x1="608" y1="461.5" x2="615" y2="461.5"/>
    <line x1="608" y1="488.5" x2="615" y2="488.5"/>
    <line x1="608" y1="514.5" x2="615" y2="514.5"/>
    <line x1="608" y1="540.5" x2="615" y2="540.5"/>
    <line x1="608" y1="566.5" x2="615" y2="566.5"/>
    <line x1="608" y1="582.5" x2="615" y2="582.5"/>
  </g>
  <!-- legend markers -->
  <g stroke="#0000e8" stroke-width="1" shape-rendering="crispEdges">
    <line x1="669" y1="402.5" x2="677" y2="402.5"/>
    <line x1="673" y1="399" x2="673" y2="406"/>
  </g>
  <circle cx="673.2" cy="523" r="3" fill="none" stroke="#e80000" stroke-width="1.2"/>
  <!-- azimuth arrow -->
  <path d="M 750 320.5 Q 751 316.5 753.5 317.5 Q 755 318 755 319.5" fill="none" stroke="#000" stroke-width="1"/>
  <path d="M 748.5 319 L 750 321.5 L 751.8 319.5 Z" fill="#000"/>
  <!-- logo arc -->
  <path d="M 14.5 43.2 A 20.2 20.2 0 0 1 39.8 13.6 A 22.6 22.6 0 0 0 14.5 43.2 Z" fill="#3b98c6"/>
</svg>

<div class="t" style="left:49px;top:21.7px;font-family:'Liberation Serif',serif;font-size:10.7px;color:#2b1f2c;-webkit-text-stroke:0.2px #2b1f2c;">Lowell</div>
<div class="t" style="left:20.3px;top:36.2px;font-family:'Liberation Sans',sans-serif;font-size:10px;letter-spacing:0.45px;color:#8e1c58;-webkit-text-stroke:0.25px #8e1c58;">DIGISONDE</div>

<div class="t hd" style="left:399px;top:8px;">STATION NAME    YYYY DATE  DDD HHMMSS AXN PPS IGP</div>
<div class="t hd" style="left:399px;top:25px;">Jicamarca       2006 Aug29 241 025528 417  75 +8F</div>

<div class="t cp" style="left:281.5px;top:47px;">North</div>
<div class="t cp" style="left:281.5px;top:568px;">South</div>
<div class="t cp" style="left:16px;top:308px;">West</div>
<div class="t cp" style="left:552px;top:308px;">East</div>

<div class="t m" style="left:594px;top:61px;line-height:14px;">Tot Num of Sources         <span class="na">0</span>
Tot Min Freq, kHz        <span class="na">N/A</span>
Tot Max Freq, kHz        <span class="na">N/A</span>
Tot Min Range, km        <span class="na">N/A</span>
Tot Max Range, km        <span class="na">N/A</span>
Tot Max Amp, dB          <span class="na">N/A</span>
Tot Max SNR Amp, dB      <span class="na">N/A</span>
Tot Min SNR Amp, dB      <span class="na">N/A</span>
Tot Avg SNR Amp, dB      <span class="na">N/A</span>
Tot Max RMS Err, deg     <span class="na">N/A</span>
Tot Min RMS Err, deg     <span class="na">N/A</span>
Tot Avg RMS Err, deg     <span class="na">N/A</span>
Doppler Res, Hz       0.0723
CIT, sec               13.84
Num of CITs                2
Polarization          O-mode
Center of Sources, deg:
Tot           Zenith     <span class="na">N/A</span>
Tot           Azimuth    <span class="na">N/A</span></div>

<div class="t tk" style="left:617.5px;top:336px;">4.6</div>
<div class="t tk" style="left:617.5px;top:378px;">3.0</div>
<div class="t tk" style="left:617.5px;top:404px;">2.0</div>
<div class="t tk" style="left:617.5px;top:430px;">1.0</div>
<div class="t tk" style="left:617.5px;top:456px;">0</div>
<div class="t tk" style="left:617.5px;top:483px;">-1.0</div>
<div class="t tk" style="left:617.5px;top:509px;">-2.0</div>
<div class="t tk" style="left:617.5px;top:535px;">-3.0</div>
<div class="t tk" style="left:617.5px;top:577px;">-4.6</div>

<div class="t lg" style="left:649px;top:492px;transform-origin:0 0;transform:rotate(-90deg);font-stretch:condensed;letter-spacing:-0.4px;color:#000;">Doppler, Hz</div>

<div class="t lg" style="left:682px;top:398px;color:#0000e8;">Positive</div>
<div class="t lg" style="left:682px;top:518px;color:#e80000;">Negative</div>

<div class="t mi" style="left:12px;top:584px;">Compass coordinates</div>
<div class="t mi" style="left:419px;top:584px;">Zenith: max 40<span style="letter-spacing:2.8px">°</span> step 5°</div>
<div class="t" style="left:654.5px;top:584px;font-family:'DejaVu Sans',sans-serif;font-size:9.5px;">ShowSkymap v 1.0   SD v 4.2</div>
</body></html>
